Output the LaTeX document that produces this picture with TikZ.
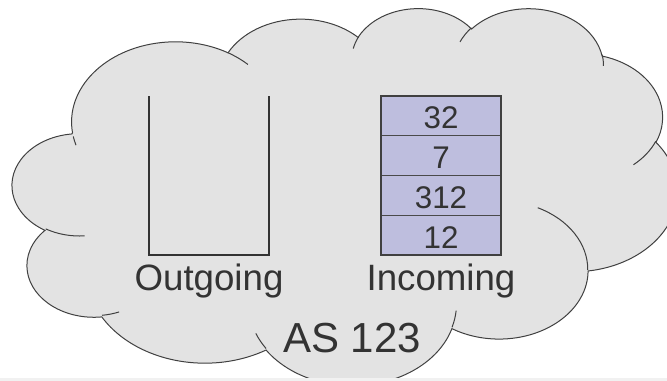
\documentclass[tikz,border=0pt]{standalone}
\usepackage{fontspec}
\setmainfont{Liberation Sans}

\tikzset{every picture/.style={line width=0.75pt}}
\tikzset{
  cloudshape/.style={draw={rgb, 255:red, 64; green, 64; blue, 64 }, fill={rgb, 255:red, 227; green, 227; blue, 227 }, line width=0.75},
  cloudfold/.style={draw={rgb, 255:red, 64; green, 64; blue, 64 }, line width=0.75},
  queueline/.style={draw={rgb, 255:red, 51; green, 51; blue, 51 }, line width=1.5},
  queuecell/.style={draw={rgb, 255:red, 74; green, 74; blue, 74 }, fill={rgb, 255:red, 190; green, 190; blue, 222 }, line width=0.9},
  celltext/.style={inner sep=0.75pt, text={rgb, 255:red, 51; green, 51; blue, 51 }, font=\fontsize{23.5}{28}\selectfont},
  labeltext/.style={anchor=base, inner sep=0.75pt, text={rgb, 255:red, 51; green, 51; blue, 51 }, font=\fontsize{27.5}{33}\selectfont},
  astext/.style={labeltext, font=\fontsize{31.5}{38}\selectfont},
}

\begin{document}
\begin{tikzpicture}[x=0.75pt,y=0.75pt,yscale=-1,xscale=1]
%set diagram left start at 0, and has height of 381
\useasboundingbox (0,0) rectangle (667,381);

%Shape: Cloud [id:cloud_as123] 
\draw [cloudshape] (72.52,132.81) 
  arc[start angle=-187.75, end angle=-59.63, x radius=103.92, y radius=80.2]
  arc[start angle=-152.02, end angle=-45.46, x radius=82.07, y radius=63.42]
  arc[start angle=-153.49, end angle=-37.33, x radius=67.17, y radius=51.88]
  arc[start angle=-139.71, end angle=-10.21, x radius=74.74, y radius=57.55]
  arc[start angle=-74.77, end angle=23.21, x radius=82.07, y radius=63.47]
  arc[start angle=-37.53, end angle=81.86, x radius=104.26, y radius=80.46]
  arc[start angle=0.46, end angle=121.98, x radius=89.03, y radius=68.65]
  arc[start angle=16.85, end angle=146.24, x radius=103.91, y radius=80.42]
  arc[start angle=58.99, end angle=150.19, x radius=118.8, y radius=92.01]
  arc[start angle=-276.69, end angle=-136.89, x radius=67.1, y radius=51.65]
  arc[start angle=-239.65, end angle=-95.89, x radius=66.87, y radius=51.88] -- cycle ;
%Curve Lines [id:cloud_folds] 
\draw [cloudfold] (84.72,235.85) arc[start angle=85.55, end angle=120.35, x radius=66.87, y radius=51.88] ;
\draw [cloudfold] (119.11,311.96) arc[start angle=68.24, end angle=83.31, x radius=67.1, y radius=51.65] ;
\draw [cloudfold] (266.08,348.54) arc[start angle=146.24, end angle=158.47, x radius=103.91, y radius=80.42] ;
\draw [cloudfold] (456.12,310.67) arc[start angle=4.74, end angle=16.85, x radius=103.91, y radius=80.42] ;
\draw [cloudfold] (537.71,207.72) arc[start angle=-64.03, end angle=0.46, x radius=89.03, y radius=68.65] ;
\draw [cloudfold] (655.73,141.39) arc[start angle=23.21, end angle=49.64, x radius=82.07, y radius=63.47] ;
\draw [cloudfold] (602.27,54.75) arc[start angle=-10.21, end angle=0.82, x radius=74.74, y radius=57.55] ;
\draw [cloudfold] (459.98,41.89) arc[start angle=-156.28, end angle=-139.71, x radius=74.74, y radius=57.55] ;
\draw [cloudfold] (353.23,48.59) arc[start angle=-167.73, end angle=-153.49, x radius=67.17, y radius=51.88] ;
\draw [cloudfold] (227.95,52.71) arc[start angle=-59.63, end angle=-45.73, x radius=103.92, y radius=80.2] ;
\draw [cloudfold] (76.01,145.19) arc[start angle=163.1, end angle=169.51, x radius=103.92, y radius=80.2] ;

%Straight Lines [id:outgoing_queue] 
\draw [queueline] (148.5,96.5) -- (148.5,255) -- (268.5,255) -- (268.5,96.5) ;

%Shape: Rectangle [id:incoming_cells] 
\draw [queuecell] (381,96) rectangle (501,135.75) ;
\draw [queuecell] (381,135.75) rectangle (501,175.5) ;
\draw [queuecell] (381,175.5) rectangle (501,215.25) ;
\draw [queuecell] (381,215.25) rectangle (501,255) ;
\draw [queueline, draw={rgb, 255:red, 64; green, 64; blue, 64 }] (381,96) rectangle (501,255) ;

%Shape: Rectangle [id:bottom_strip] 
\fill [fill={rgb, 255:red, 241; green, 241; blue, 241 }] (0,378) rectangle (667,381) ;

% Text Node
\draw (441,118) node [celltext] (v32) {32};
% Text Node
\draw (441,158) node [celltext] (v7) {7};
% Text Node
\draw (441,198) node [celltext] (v312) {312};
% Text Node
\draw (441,237.5) node [celltext] (v12) {12};
% Text Node
\draw (209,290) node [labeltext] (outlbl) {Outgoing};
% Text Node
\draw (441,290) node [labeltext] (inlbl) {Incoming};
% Text Node
\draw (352,352) node [astext] (aslbl) {AS 123};

\end{tikzpicture}
\end{document}
